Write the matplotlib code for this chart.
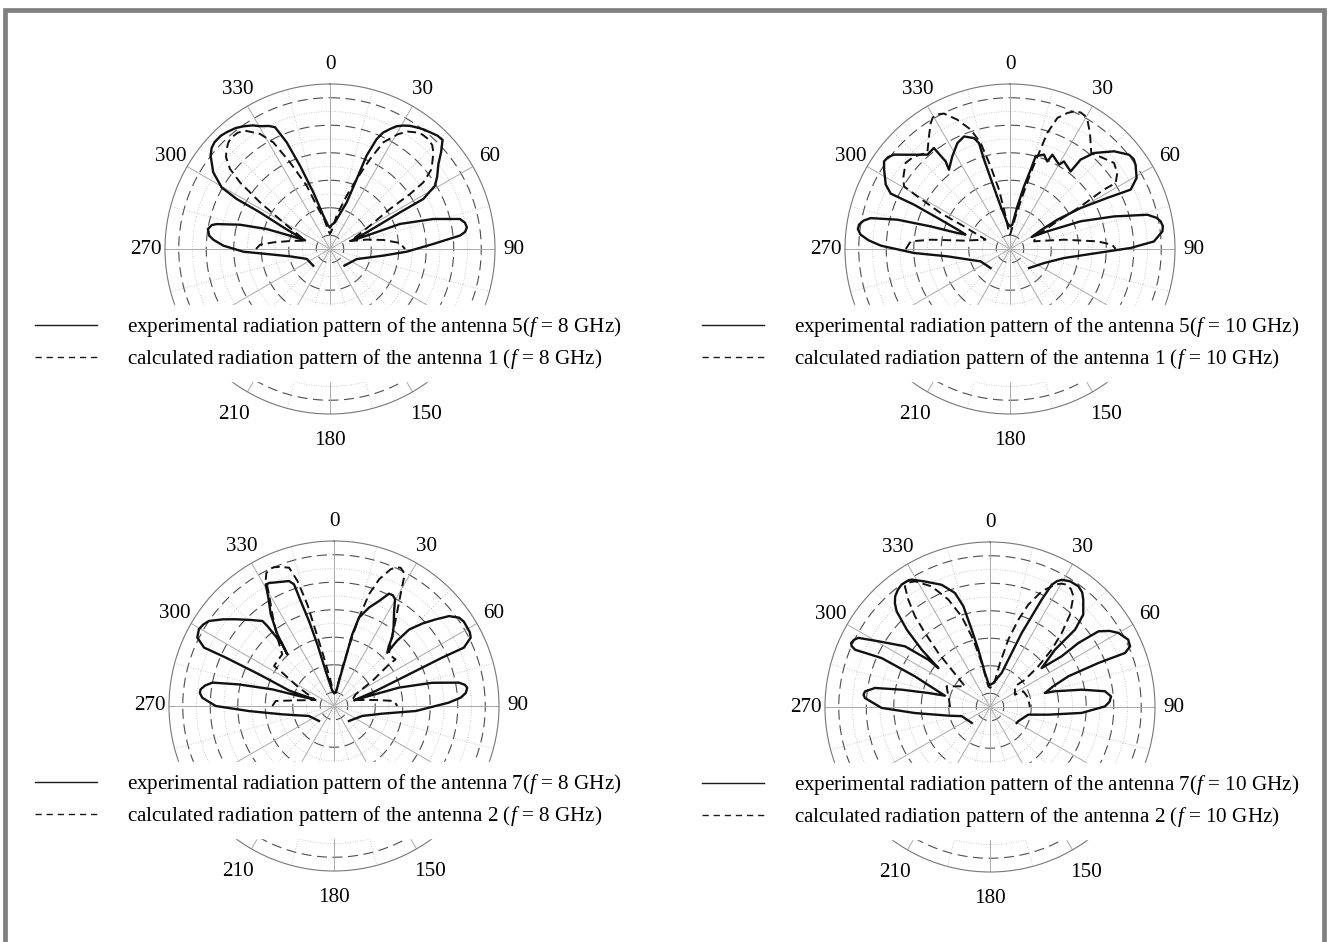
import numpy as np
import matplotlib.pyplot as plt
from matplotlib.lines import Line2D
from matplotlib.patches import Rectangle

plt.rcParams['font.family'] = ['Liberation Serif', 'DejaVu Serif']
plt.rcParams['mathtext.fontset'] = 'custom'
plt.rcParams['mathtext.rm'] = 'Liberation Serif'
plt.rcParams['mathtext.it'] = 'Liberation Serif:italic'

# radiation patterns: (angle in degrees, level on the 0..6 radial scale)
tl_exp = [(-135, 0.86), (-113, 0.92), (-100.4, 1.48), (-94.5, 2.31), (-91.8, 3.15), (-88.2, 3.88),
          (-85.5, 4.25), (-83.7, 4.42), (-80.7, 4.50), (-78.5, 4.38), (-77.6, 4.22), (-74.9, 3.39),
          (-72.5, 2.42), (-71.6, 1.53), (-71.0, 0.96), (-65.1, 1.87), (-62.4, 2.87), (-61.8, 3.85),
          (-60.4, 4.53), (-56.7, 5.08), (-52.0, 5.51), (-49.5, 5.66), (-47.2, 5.72), (-44.0, 5.72),
          (-41.5, 5.67), (-38.0, 5.58), (-35.2, 5.46), (-32.0, 5.30), (-29.7, 5.14), (-26.5, 5.00),
          (-24.3, 4.86), (-22.1, 4.19), (-19.8, 3.22), (-16.4, 2.15), (-11.3, 1.24), (-4.8, 0.86),
          (0, 0.78), (4.0, 0.88), (10.6, 0.99), (19.7, 1.80), (20.9, 2.72), (21.4, 3.65),
          (23.0, 4.34), (24.5, 4.65), (26.6, 4.88), (28.5, 5.08), (30.7, 5.22), (33.0, 5.34),
          (35.5, 5.43), (38.0, 5.52), (40.6, 5.59), (43.5, 5.68), (45.9, 5.70), (49.0, 5.35),
          (52.0, 5.00), (56.0, 4.70), (58.9, 4.46), (61.8, 3.85), (62.4, 2.87), (65.6, 1.46),
          (69.0, 0.84), (70.0, 1.42), (70.3, 2.70), (73.8, 3.91), (77.0, 4.85), (79.0, 5.00),
          (81.0, 5.04), (82.8, 4.95), (84.1, 4.75), (87.2, 3.76), (92.0, 2.79), (97.1, 1.95),
          (110.6, 1.04), (139, 0.80)]
tl_calc = [(-90, 2.69), (-86.5, 2.55), (-83.3, 2.07), (-78.7, 1.48), (-71.6, 0.96), (-69.4, 1.04),
           (-60.3, 1.95), (-56.3, 3.06), (-53.5, 4.07), (-51.3, 4.66), (-48.5, 5.05), (-46.0, 5.23),
           (-43.5, 5.36), (-41.4, 5.41), (-38.5, 5.40), (-35.7, 5.30), (-31.3, 4.90), (-28.0, 4.39),
           (-24.8, 3.47), (-20.2, 2.45), (-17.1, 1.65), (-11.0, 1.10), (-5.2, 0.67), (0, 0.55),
           (5.2, 0.67), (11.3, 1.24), (17.4, 2.03), (20.9, 2.72), (24.0, 3.58), (26.6, 4.34),
           (30.7, 4.86), (33.5, 5.12), (36.6, 5.28), (39.0, 5.35), (41.8, 5.36), (44.5, 5.30),
           (46.9, 5.15), (51.8, 4.70), (54.5, 4.17), (55.5, 3.53), (56.3, 2.62), (59.7, 1.68),
           (66.8, 0.92), (68.0, 0.78), (75.7, 1.38), (80.4, 1.97), (85.1, 2.55), (90, 2.73)]

tr_exp = [(-134.5, 0.99), (-112.8, 1.16), (-96.7, 2.29), (-92.4, 3.49), (-88.5, 4.70), (-86.5, 5.15),
          (-84.5, 5.46), (-82.5, 5.58), (-80.8, 5.56), (-79.0, 5.42), (-77.5, 5.19), (-75.4, 4.23),
          (-74.1, 3.00), (-73.1, 2.00), (-72.0, 1.70), (-70.3, 1.91), (-67.1, 2.74), (-65.2, 3.85),
          (-65.1, 4.78), (-62.6, 5.09), (-57.8, 5.41), (-55.2, 5.58), (-53.0, 5.55), (-50.9, 5.44),
          (-46.5, 4.98), (-41.2, 4.56), (-37.0, 4.60), (-36.3, 3.95), (-37.6, 3.64), (-31.9, 3.97),
          (-26.4, 4.30), (-22.2, 4.42), (-18.0, 4.24), (-16.3, 4.01), (-16.2, 3.38), (-15.0, 2.48),
          (-12.3, 1.59), (-5.9, 0.95), (0, 0.82), (5.5, 0.89), (9.8, 1.57), (12.6, 2.33),
          (14.6, 2.98), (15.5, 3.50), (19.8, 3.65), (23.1, 3.46), (24.2, 3.76), (30.2, 3.55),
          (31.6, 3.74), (38.0, 3.58), (38.3, 4.14), (41.2, 4.64), (46.8, 5.19), (51.6, 5.52),
          (54.0, 5.56), (56.1, 5.50), (60.7, 5.28), (63.8, 4.89), (62.3, 4.00), (59.9, 2.97),
          (58.2, 2.02), (58.7, 1.31), (61.0, 0.90), (64.7, 1.50), (68.6, 2.76), (72.6, 3.96),
          (76.0, 5.15), (78.0, 5.45), (79.6, 5.57), (81.5, 5.62), (83.4, 5.58), (87.0, 5.24),
          (89.5, 4.39), (92.6, 3.18), (99.5, 1.99), (112.4, 1.34), (135, 0.98)]
tr_calc = [(-90, 3.79), (-85.6, 3.62), (-83.3, 2.90), (-79.7, 1.70), (-69.0, 0.95), (-63.8, 1.86),
           (-62.6, 2.84), (-60.4, 3.88), (-59.4, 4.48), (-55.7, 4.69), (-50.5, 4.92), (-46.0, 4.85),
           (-40.7, 4.61), (-35.7, 5.05), (-32.2, 5.41), (-30.5, 5.54), (-28.9, 5.58), (-26.0, 5.48),
           (-22.2, 5.08), (-18.2, 4.57), (-15.5, 4.00), (-13.2, 3.09), (-10.5, 2.19), (-7.6, 1.20),
           (-3.6, 0.58), (0, 0.52), (2.4, 0.58), (9.8, 1.21), (13.2, 1.97), (15.2, 2.86),
           (16.8, 3.65), (17.8, 4.43), (19.9, 5.07), (22.9, 5.37), (25.0, 5.52), (27.3, 5.59),
           (29.3, 5.56), (30.9, 5.48), (34.6, 5.12), (40.3, 4.57), (44.6, 4.70), (50.4, 4.91),
           (54.7, 4.78), (58.0, 4.53), (57.7, 4.04), (58.9, 3.00), (59.7, 1.99), (63.7, 1.04),
           (72.3, 0.92), (80.2, 1.99), (85.0, 3.19), (87.6, 3.72), (90, 3.84)]

bl_exp = [(-135, 0.77), (-111.8, 0.98), (-99.2, 1.90), (-93.4, 3.10), (-90.0, 4.30), (-86.4, 4.80),
          (-84.5, 4.90), (-82.9, 4.89), (-81.0, 4.75), (-79.1, 4.50), (-77.2, 3.54), (-74.9, 2.32),
          (-74.0, 1.32), (-71.6, 0.77), (-71.0, 1.72), (-67.1, 2.96), (-65.9, 4.31), (-65.8, 5.18),
          (-63.4, 5.56), (-60.4, 5.65), (-58.0, 5.60), (-55.8, 5.50), (-52.0, 5.12), (-48.6, 4.77),
          (-44.0, 4.35), (-40.1, 4.04), (-39.8, 3.79), (-40.0, 2.93), (-42.1, 2.53), (-40.6, 2.79),
          (-38.3, 3.32), (-34.6, 4.05), (-31.2, 4.61), (-29.3, 5.07), (-27.5, 5.05), (-25.9, 4.99),
          (-19.8, 4.83), (-18.2, 4.66), (-17.6, 4.01), (-16.4, 3.22), (-15.1, 2.32), (-13.4, 1.31),
          (-6.3, 0.55), (0, 0.50), (8.1, 0.50), (11.3, 0.93), (13.6, 1.81), (14.3, 2.69),
          (15.8, 3.34), (19.6, 3.80), (23.2, 4.15), (26.1, 4.55), (28.0, 4.56), (29.8, 4.47),
          (32.3, 4.09), (37.0, 3.60), (40.1, 3.30), (42.5, 2.95), (45.0, 2.74), (44.0, 3.30),
          (44.5, 3.90), (47.0, 4.40), (49.6, 4.86), (52.0, 5.31), (54.8, 5.57), (57.0, 5.63),
          (59.6, 5.62), (61.5, 5.62), (63.4, 5.56), (65.8, 5.18), (65.9, 4.31), (67.1, 2.96),
          (70.2, 1.61), (74.2, 0.76), (74.0, 1.32), (74.2, 2.46), (76.7, 3.67), (79.4, 4.62),
          (80.8, 4.82), (82.2, 4.89), (84.3, 4.82), (86.2, 4.62), (88.3, 4.18), (93.5, 2.98),
          (99.0, 1.78), (109.4, 1.09), (135, 0.77)]
bl_calc = [(-90, 2.24), (-85.1, 2.13), (-81.6, 1.41), (-71.9, 0.70), (-62.4, 1.44), (-57.2, 2.24),
           (-56.3, 2.62), (-51.5, 2.63), (-45.0, 2.66), (-39.7, 3.23), (-33.9, 4.02), (-30.2, 4.70),
           (-28.3, 5.23), (-27.0, 5.42), (-25.4, 5.50), (-23.5, 5.50), (-21.6, 5.44), (-18.0, 5.29),
           (-16.3, 4.74), (-14.7, 3.82), (-13.7, 2.81), (-11.7, 1.79), (-7.6, 0.92), (-2.9, 0.49),
           (0, 0.45), (7.1, 0.49), (12.3, 1.43), (14.4, 2.44), (15.8, 3.34), (17.4, 4.26),
           (19.6, 4.89), (22.5, 5.38), (24.0, 5.52), (25.7, 5.58), (27.3, 5.50), (28.6, 5.32),
           (30.8, 4.73), (33.7, 4.15), (37.5, 3.59), (41.1, 3.14), (46.8, 2.74), (52.9, 2.81),
           (52.9, 2.51), (56.9, 1.66), (61.7, 0.89), (71.9, 0.70), (81.8, 1.53), (85.2, 2.19),
           (90, 2.30)]

br_exp = [(-131, 0.88), (-108, 1.08), (-101.7, 1.55), (-94.6, 2.74), (-90.5, 3.94), (-85.9, 4.56),
          (-84.4, 4.62), (-82.9, 4.58), (-80.6, 4.24), (-78.9, 3.27), (-77.2, 2.30), (-75.9, 1.69),
          (-71.5, 2.20), (-67.8, 2.95), (-65.7, 4.32), (-67.0, 5.33), (-66.2, 5.50), (-65.3, 5.56),
          (-63.8, 5.52), (-62.3, 5.41), (-59.5, 4.71), (-54.5, 3.80), (-52.5, 2.83), (-53.0, 2.35),
          (-50.0, 3.24), (-47.1, 4.13), (-44.3, 4.86), (-42.5, 5.12), (-40.6, 5.30), (-38.0, 5.43),
          (-35.8, 5.49), (-33.5, 5.48), (-31.6, 5.44), (-27.4, 5.14), (-21.6, 4.78), (-17.1, 4.34),
          (-14.8, 3.79), (-13.3, 2.89), (-11.5, 2.13), (-8.4, 1.25), (-4.0, 0.87), (0, 0.80),
          (7.9, 0.88), (18.9, 1.31), (21.9, 2.12), (23.2, 2.93), (24.7, 3.63), (25.7, 4.33),
          (26.8, 4.98), (28.0, 5.18), (29.4, 5.31), (32.5, 5.42), (36.2, 5.44), (38.8, 5.35),
          (41.0, 5.17), (45.3, 4.77), (47.7, 4.18), (48.6, 3.15), (53.0, 2.35), (54.7, 3.19),
          (54.1, 3.97), (55.1, 4.81), (57.5, 5.15), (60.0, 5.39), (64.0, 5.59), (66.6, 5.55),
          (68.2, 5.29), (67.9, 4.25), (68.6, 3.06), (72.0, 2.40), (75.7, 2.06), (76.4, 2.43),
          (79.3, 3.39), (82.2, 4.22), (85.0, 4.42), (87.5, 4.35), (89.7, 4.18), (93.7, 3.34),
          (97.5, 2.14), (101.3, 1.42), (116.8, 1.15), (121, 1.13)]
br_calc = [(-90, 1.45), (-75.6, 1.56), (-64.5, 1.75), (-50.4, 1.18), (-45.8, 1.95), (-43.7, 2.72),
           (-41.3, 3.58), (-39.6, 4.28), (-37.3, 4.90), (-35.2, 5.37), (-33.0, 5.40), (-30.8, 5.32),
           (-25.8, 4.87), (-21.2, 4.19), (-17.4, 3.45), (-13.9, 2.52), (-10.7, 1.63), (-4.6, 0.75),
           (0, 0.70), (9.2, 0.76), (12.8, 1.64), (15.2, 2.54), (18.0, 3.34), (20.5, 3.97),
           (24.1, 4.61), (28.0, 5.04), (30.0, 5.18), (32.1, 5.25), (34.5, 5.20), (37.0, 5.04),
           (40.9, 4.44), (44.1, 3.75), (47.1, 3.06), (49.9, 2.30), (52.0, 1.61), (50.4, 1.18),
           (63.7, 1.01), (64.8, 1.34), (76.8, 1.43), (90, 1.45)]

# 120 and 240 sit under the legend box, so they are left out
tick_angles = [0, 30, 60, 90, 150, 180, 210, 270, 300, 330]

panels = [
    # centre x, centre y (pixels), experimental, calculated, legend texts, legend x
    (330, 249, tl_exp, tl_calc,
     ['experimental radiation pattern of the antenna 5($f$ = 8 GHz)',
      'calculated radiation pattern of the antenna 1 ($f$ = 8 GHz)'], 25),
    (1010, 249, tr_exp, tr_calc,
     ['experimental radiation pattern of the antenna 5($f$ = 10 GHz)',
      'calculated radiation pattern of the antenna 1 ($f$ = 10 GHz)'], 692),
    (334, 706, bl_exp, bl_calc,
     ['experimental radiation pattern of the antenna 7($f$ = 8 GHz)',
      'calculated radiation pattern of the antenna 2 ($f$ = 8 GHz)'], 25),
    (990, 707, br_exp, br_calc,
     ['experimental radiation pattern of the antenna 7($f$ = 10 GHz)',
      'calculated radiation pattern of the antenna 2 ($f$ = 10 GHz)'], 692),
]

W, H = 1328, 942
R = 165
FS = 15.2
fig = plt.figure(figsize=(W / 100, H / 100), dpi=100)

ring = np.linspace(0, 2 * np.pi, 721)

for cx, cy, exp, calc, texts, lx in panels:
    ax = fig.add_axes([(cx - R) / W, (H - cy - R) / H, 2 * R / W, 2 * R / H], projection='polar')
    ax.set_theta_zero_location('N')
    ax.set_theta_direction(-1)
    ax.set_ylim(0, 6)
    ax.set_xticks([])
    ax.set_yticks([])
    ax.grid(False)
    ax.spines['polar'].set_color('#777777')
    ax.spines['polar'].set_linewidth(0.8)

    # grid: dashed major rings, dotted minor rings, radial spokes
    for r in [0.5, 1.5, 2.5, 3.5, 4.5, 5.5]:
        ax.plot(ring, np.full_like(ring, r), color='#4d4d4d', lw=0.8, dashes=(9, 5), zorder=1)
    for r in [1, 2, 3, 4, 5]:
        ax.plot(ring, np.full_like(ring, r), color='#bbbbbb', lw=0.6, ls=(0, (1, 2)), zorder=1)
    for a in range(0, 360, 30):
        ax.plot([np.deg2rad(a)] * 2, [0, 6], color='#aaaaaa', lw=0.7, zorder=1)
    for a in range(15, 360, 30):
        ax.plot([np.deg2rad(a)] * 2, [0, 6], color='#bbbbbb', lw=0.6, ls=(0, (1, 2)), zorder=1)

    for a in tick_angles:
        r_lab = 6.95 if abs(a - 180) <= 45 else 6.7
        ax.text(np.deg2rad(a), r_lab, str(a), ha='center', va='center', fontsize=FS)

    exp_deg, exp_lvl = np.array(exp).T
    calc_deg, calc_lvl = np.array(calc).T
    ax.plot(np.deg2rad(exp_deg), exp_lvl, color='#111111', lw=1.7, zorder=3)
    ax.plot(np.deg2rad(calc_deg), calc_lvl, color='#111111', lw=1.4, dashes=(4.5, 2.5), zorder=3)

    handles = [Line2D([], [], color='#1a1a1a', lw=1.0),
               Line2D([], [], color='#1a1a1a', lw=1.0, dashes=(4.5, 3.5))]
    ax.legend(handles, texts, loc='center left', bbox_to_anchor=(lx / W, 1 - (cy + 94) / H),
              bbox_transform=fig.transFigure, fontsize=FS, frameon=True, fancybox=False,
              facecolor='white', edgecolor='white', framealpha=1, borderpad=0.45,
              borderaxespad=0, handlelength=2.95, handletextpad=1.45, labelspacing=0.38)

# grey frame around the whole figure
fig.patches.append(Rectangle((5 / W, -0.05), 1319 / W, 1.05 - 9.5 / H, transform=fig.transFigure,
                             fill=False, edgecolor='#808080', lw=3.4))

fig.savefig('out.png', dpi=100)
